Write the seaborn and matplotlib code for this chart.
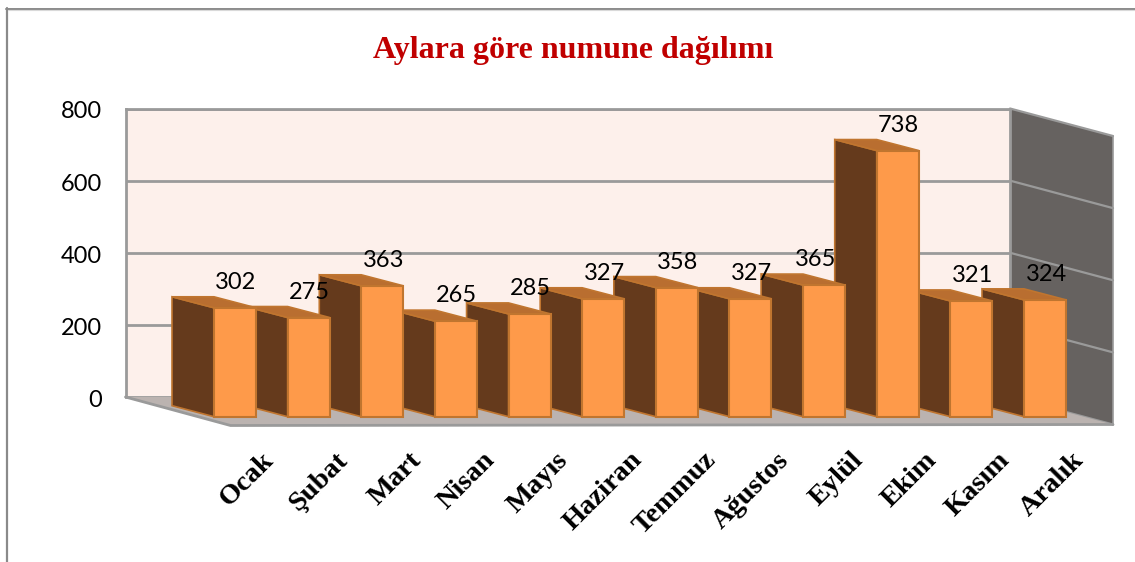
import matplotlib.pyplot as plt
import matplotlib.transforms as mtrans
import seaborn as sns
from matplotlib.lines import Line2D
from matplotlib.patches import Polygon

aylar = ['Ocak', 'Şubat', 'Mart', 'Nisan', 'Mayıs', 'Haziran', 'Temmuz', 'Ağustos', 'Eylül', 'Ekim', 'Kasım', 'Aralık']
numune = [302, 275, 363, 265, 285, 327, 358, 327, 365, 738, 321, 324]
y_ticks = [0, 200, 400, 600, 800]
baslik = 'Aylara göre numune dağılımı'

W, H = 1135, 562
cerceve = '#8a8a8a'
izgara = '#9a9a9a'
on_yuz = '#fe9a4a'
kenar = '#c0752f'
yan_yuz = '#653a1c'
ust_yuz = '#b96e30'
duvar = '#fdf0eb'
sag_duvar = '#666260'
taban = '#bbb3b0'

sns.set_style('white')
plt.rcParams['font.family'] = ['Lato', 'DejaVu Sans']

fig = plt.figure(figsize=(W / 100, H / 100), dpi=100, facecolor='white')


def kutu(sol, ust, sag, alt):
    return [sol / W, 1 - alt / H, (sag - sol) / W, (alt - ust) / H]


# arka duvar
ax_duvar = fig.add_axes(kutu(125.5, 108.5, 1010, 397), facecolor=duvar)
ax_duvar.set_xlim(0, 1)
ax_duvar.set_ylim(0, 800)
ax_duvar.set_xticks([])
ax_duvar.set_yticks(y_ticks)
ax_duvar.tick_params(axis='y', length=0, pad=17, labelsize=17, labelcolor='black')
ax_duvar.grid(axis='y', color=izgara, lw=2)
ax_duvar.set_axisbelow(True)
for s in ax_duvar.spines.values():
    s.set_color(izgara)
    s.set_linewidth(2)
ax_duvar.spines['bottom'].set_visible(False)
kayma_y = mtrans.ScaledTranslation(0, -1.5 / 100, fig.dpi_scale_trans)
for lab in ax_duvar.get_yticklabels():
    lab.set_transform(lab.get_transform() + kayma_y)

px_x = 1 / (1010 - 125.5)
px_y = 800 / 288.5
d_x = 103 * px_x
d_y = 27.5 * px_y

ax_duvar.add_patch(Polygon([(1, 0), (1, 800), (1 + d_x, 800 - d_y), (1 + d_x, -d_y)], closed=True,
                           fc=sag_duvar, ec='none', clip_on=False, zorder=1))
for t in y_ticks:
    ax_duvar.plot([1, 1 + d_x], [t, t - d_y], color=izgara, lw=1.6, clip_on=False, zorder=2)
ax_duvar.plot([1 + d_x, 1 + d_x], [800 - d_y, -d_y], color=izgara, lw=1.2, clip_on=False, zorder=2)
ax_duvar.add_patch(Polygon([(0, 0), (1, 0), (1 + d_x, -d_y), (105 * px_x, -d_y - 1 * px_y)], closed=True,
                           fc=taban, ec='none', clip_on=False, zorder=3))
ax_duvar.plot([0, 105 * px_x, 1 + d_x], [0, -d_y - 1 * px_y, -d_y], color=izgara, lw=2, clip_on=False, zorder=4)

# sutunlar
adim = (1045 - 235) / 11
ax = fig.add_axes(kutu(125.5, 128.2, 1113, 416.7))
ax.patch.set_visible(False)
sns.barplot(x=aylar, y=numune, ax=ax, color=on_yuz, saturation=1, width=0.57, edgecolor=kenar, linewidth=1.5)
ax.set_xlim((125.5 - 235) / adim, (1113 - 235) / adim)
ax.set_ylim(0, 800)
ax.set_yticks([])
sns.despine(ax=ax, left=True, bottom=True)

dx = -42 / adim
dy = 11 * px_y
n = len(aylar)
for i, bar in enumerate(ax.patches):
    x, w, h = bar.get_x(), bar.get_width(), bar.get_height()
    z = 5 + 2 * (n - i)
    bar.set_zorder(z)
    bar.set_clip_on(False)
    ax.add_patch(Polygon([(x, 0), (x, h), (x + dx, h + dy), (x + dx, dy)], closed=True,
                         fc=yan_yuz, ec=kenar, lw=1.2, zorder=z - 1, clip_on=False))
    ax.add_patch(Polygon([(x, h), (x + w, h), (x + w + dx, h + dy), (x + dx, h + dy)], closed=True,
                         fc=ust_yuz, ec=kenar, lw=1.2, zorder=z - 1, clip_on=False))

# 365 etiketi yandaki sutuna degmesin diye biraz solda
etiket_kayma = {8: -9}
for i, v in enumerate(numune):
    ax.annotate(str(v), xy=(i, v), xytext=((etiket_kayma.get(i, 0) + 1) * 0.72, 25.5 * 0.72), textcoords='offset points',
                ha='center', va='center', fontsize=17, color='black', zorder=60, annotation_clip=False)

ax.tick_params(axis='x', length=0, pad=28.5)
ax.set_xticks(range(n))
ax.set_xticklabels(aylar, rotation=45, ha='right', va='center', rotation_mode='anchor', color='black',
                   family='Liberation Serif', fontweight='bold', fontsize=20.5)
kayma = mtrans.ScaledTranslation(35 / 100, 0, fig.dpi_scale_trans)
for lab in ax.get_xticklabels():
    lab.set_transform(lab.get_transform() + kayma)

fig.text(573 / W, 1 - 50.5 / H, baslik, ha='center', va='center', family='Liberation Serif', fontweight='bold',
         fontsize=23, color='#c00000')

# dis cerceve
fig.add_artist(Line2D([6.5 / W, 6.5 / W], [0, 1 - 8 / H], color=cerceve, lw=1.6))
fig.add_artist(Line2D([6 / W, 1], [1 - 8.5 / H, 1 - 8.5 / H], color=cerceve, lw=1.4))
fig.add_artist(Line2D([8 / W, 1], [1 - 9.8 / H, 1 - 9.8 / H], color='#d9d9d9', lw=0.8))

plt.savefig('out.png', dpi=100, facecolor='white')
